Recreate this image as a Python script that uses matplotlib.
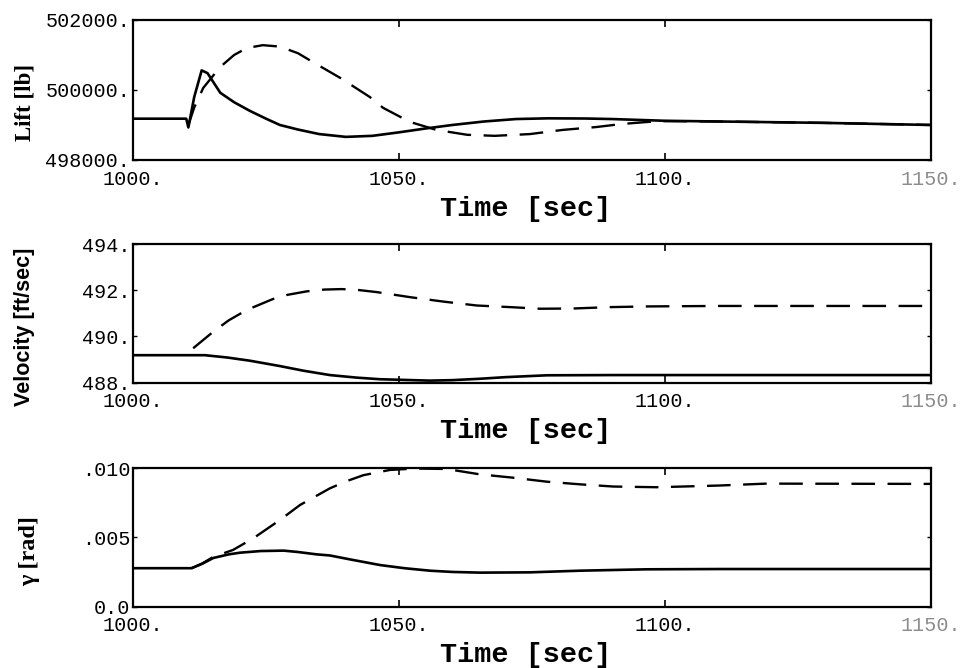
import matplotlib
matplotlib.use("Agg")
import matplotlib.pyplot as plt

# Lift [lb]
lift_t_solid = [1000, 1010, 1010.4, 1011.5, 1012.9, 1014, 1016.4, 1019, 1022, 1025, 1027.6, 1031,
                1035, 1040, 1045, 1050, 1055, 1060, 1066, 1072, 1078, 1085, 1090, 1100, 1110,
                1120, 1130, 1140, 1150]
lift_solid = [499180, 499180, 498930, 499800, 500560, 500480, 499920, 499650, 499400, 499180,
              499000, 498870, 498740, 498660, 498690, 498790, 498900, 499000, 499100, 499170,
              499190, 499185, 499170, 499120, 499100, 499080, 499060, 499030, 499000]
lift_t_dash = [1010.3, 1011.5, 1013.2, 1016.4, 1019, 1021.4, 1024.4, 1027.6, 1031, 1034, 1039,
               1044.5, 1047, 1052, 1057, 1062.8, 1068, 1074.6, 1080.8, 1087, 1092, 1097, 1100,
               1110, 1120, 1130, 1140, 1150]
lift_dash = [498950, 499500, 500060, 500660, 501000, 501200, 501280, 501240, 501050, 500780,
             500340, 499800, 499490, 499090, 498860, 498720, 498690, 498740, 498860, 498940,
             499030, 499090, 499110, 499100, 499080, 499060, 499030, 499000]

# Velocity [ft/sec]
vel_t_solid = [1000, 1013.5, 1017.7, 1022, 1027.6, 1032, 1037, 1042, 1046.4, 1055.8, 1060,
               1065.2, 1070, 1077.8, 1090, 1100, 1150]
vel_solid = [489.19, 489.19, 489.09, 488.95, 488.72, 488.52, 488.33, 488.22, 488.15, 488.09,
             488.11, 488.17, 488.24, 488.32, 488.33, 488.33, 488.33]
vel_t_dash = [1011.3, 1015.1, 1018, 1021.4, 1026.3, 1029, 1032.6, 1036, 1039.2, 1042, 1045.8,
              1052.1, 1058.3, 1064.6, 1070.9, 1076.5, 1082.7, 1089.7, 1096.6, 1110, 1130, 1150]
vel_dash = [489.49, 490.21, 490.70, 491.15, 491.62, 491.80, 491.95, 492.03, 492.05, 492.02,
            491.92, 491.70, 491.51, 491.34, 491.27, 491.20, 491.21, 491.27, 491.30, 491.32,
            491.32, 491.32]

# gamma [rad]
gam_t_solid = [1000, 1011, 1013, 1015.1, 1018, 1020.1, 1024, 1028.3, 1031, 1034.5, 1037, 1041,
               1046.4, 1051, 1055.8, 1060, 1065.2, 1074.6, 1084, 1096.6, 1110, 1150]
gam_solid = [0.00278, 0.00278, 0.00310, 0.00352, 0.00378, 0.00390, 0.00402, 0.00405, 0.00395,
             0.00378, 0.00370, 0.00340, 0.00301, 0.00278, 0.00260, 0.00251, 0.00246, 0.00248,
             0.00260, 0.00270, 0.00272, 0.00272]
gam_t_dash = [1011, 1013, 1015.1, 1018.8, 1022.6, 1027.6, 1031.4, 1037, 1040, 1043.3, 1048.3,
              1053, 1058.9, 1065.2, 1071.4, 1077.8, 1084, 1090.3, 1098.4, 1110, 1119, 1135, 1150]
gam_dash = [0.00278, 0.00312, 0.00360, 0.00410, 0.00494, 0.00626, 0.00735, 0.00855, 0.00905,
            0.00950, 0.00988, 0.00998, 0.00995, 0.00956, 0.00932, 0.00903, 0.00884, 0.00868,
            0.00863, 0.00875, 0.00889, 0.00888, 0.00887]

x_ticks = [1000, 1050, 1100, 1150]
x_tick_labels = ["1000.", "1050.", "1100.", "1150."]

panels = [
    dict(ts=lift_t_solid, s=lift_solid, td=lift_t_dash, d=lift_dash,
         ylim=(498000, 502000), yticks=[498000, 500000, 502000],
         ylabels=["498000.", "500000.", "502000."],
         label="Lift [lb]", lfont="Liberation Serif", lsize=16.5, lpos=(-0.136, 0.41),
         rect=[0.1373, 0.7605, 0.8235, 0.2096]),
    dict(ts=vel_t_solid, s=vel_solid, td=vel_t_dash, d=vel_dash,
         ylim=(488, 494), yticks=[488, 490, 492, 494],
         ylabels=["488.", "490.", "492.", "494."],
         label="Velocity [ft/sec]", lfont="Liberation Sans", lsize=15.5, lpos=(-0.136, 0.40),
         rect=[0.1373, 0.4271, 0.8235, 0.2076]),
    dict(ts=gam_t_solid, s=gam_solid, td=gam_t_dash, d=gam_dash,
         ylim=(0.0, 0.010), yticks=[0.0, 0.005, 0.010],
         ylabels=["0.0", ".005", ".010"],
         label="\u03b3 [rad]", lfont="Liberation Serif", lsize=17.5, lpos=(-0.129, 0.40),
         rect=[0.1373, 0.0918, 0.8235, 0.2072]),
]

plt.rcParams["lines.scale_dashes"] = False

fig = plt.figure(figsize=(9.69, 6.68), dpi=100)
mono = "Liberation Mono"

for p in panels:
    ax = fig.add_axes(p["rect"])
    ax.plot(p["ts"], p["s"], color="black", linewidth=1.9, solid_joinstyle="round")
    ax.plot(p["td"], p["d"], color="black", linewidth=1.7, linestyle=(0, (17, 9)))
    ax.set_xlim(1000, 1150)
    ax.set_ylim(*p["ylim"])

    ax.set_xticks(x_ticks)
    ax.set_xticklabels(x_tick_labels, fontfamily=mono, fontsize=14.5)
    ax.get_xticklabels()[-1].set_color("#8c8c8c")
    ax.set_yticks(p["yticks"])
    ax.set_yticklabels(p["ylabels"], fontfamily=mono, fontsize=14.5)
    ax.tick_params(axis="x", direction="in", length=5, width=1.2, top=True, pad=7)
    ax.tick_params(axis="y", direction="in", length=3, width=1.0, right=True, pad=2)
    for sp in ax.spines.values():
        sp.set_linewidth(1.6)

    ax.set_xlabel("Time [sec]", fontfamily=mono, fontweight="bold", fontsize=20.5)
    ax.xaxis.set_label_coords(0.492, -49 / 140)
    ax.xaxis.label.set_va("center")

    ax.set_ylabel(p["label"], fontfamily=p["lfont"], fontweight="bold", fontsize=p["lsize"])
    ax.yaxis.set_label_coords(*p["lpos"])
    ax.yaxis.label.set_va("center")

fig.savefig("out.png", dpi=100)
